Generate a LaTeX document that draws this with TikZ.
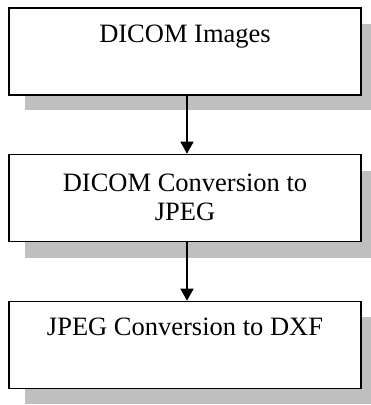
\documentclass[tikz,border=0pt]{standalone}
\usepackage{fontspec}
\setmainfont{Liberation Serif}
\usetikzlibrary{arrows.meta}
\tikzset{
  stepbox/.style={draw=black, line width=1.6pt, fill=white, minimum width=352pt, minimum height=87pt, inner sep=0pt},
  shadowbox/.style={fill=black!25, draw=none},
  txt/.style={anchor=base, inner sep=0pt, font=\fontsize{26.5}{29}\selectfont},
  flow/.style={line width=1.4pt, -{Triangle[length=12pt,width=13pt]}}
}
\begin{document}
\begin{tikzpicture}[x=1pt,y=1pt]
\useasboundingbox (0,0) rectangle (371,405);
% shadows
\fill[shadowbox] (25,295) rectangle (371,381);
\fill[shadowbox] (25,147) rectangle (371,234);
\fill[shadowbox] (25,1) rectangle (371,88);
% boxes
\node[stepbox] (b1) at (185,353.5) {};
\node[stepbox] (b2) at (185,207) {};
\node[stepbox] (b3) at (185,60) {};
% texts
\node[txt] (t1) at ([yshift=-35pt]b1.north) {DICOM Images};
\node[txt] (t2a) at ([yshift=-38pt]b2.north) {DICOM Conversion to};
\node[txt] (t2b) at ([yshift=-67pt]b2.north) {JPEG};
\node[txt] (t3) at ([yshift=-35pt]b3.north) {JPEG Conversion to DXF};
% connectors
\draw[flow] ([xshift=2pt]b1.south) -- ([xshift=2pt]b2.north);
\draw[flow] ([xshift=2pt]b2.south) -- ([xshift=2pt]b3.north);
\end{tikzpicture}
\end{document}
